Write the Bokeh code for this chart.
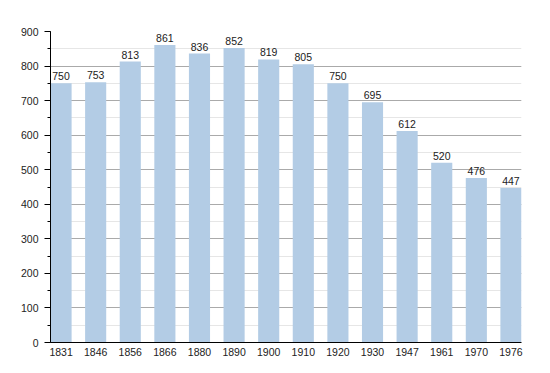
from bokeh.plotting import figure
from bokeh.models import ColumnDataSource, Range1d, SingleIntervalTicker, FixedTicker, LabelSet
from bokeh.core.properties import value
from bokeh.embed import file_html
from bokeh.resources import INLINE

years = ["1831", "1846", "1856", "1866", "1880", "1890", "1900", "1910", "1920", "1930", "1947", "1961", "1970", "1976"]
population = [750, 753, 813, 861, 836, 852, 819, 805, 750, 695, 612, 520, 476, 447]
y_ticks = [0, 100, 200, 300, 400, 500, 600, 700, 800, 900]

bar_w = 0.61
xs = list(range(len(years)))
source = ColumnDataSource(dict(x=xs, top=population, label=[str(v) for v in population]))

FONT = "Liberation Sans"

p = figure(width=542, height=365, output_backend="svg", toolbar_location=None,
           x_range=Range1d(-bar_w / 2, len(years) - 1 + bar_w / 2),
           y_range=Range1d(0, 900),
           min_border_left=50, min_border_right=21, min_border_top=31, min_border_bottom=23)
p.outline_line_color = None
p.background_fill_color = "white"
p.border_fill_color = "white"

p.vbar(x="x", top="top", width=bar_w, source=source, fill_color="#b3cce5", line_color=None)

labels = LabelSet(x="x", y="top", text="label", source=source, text_align="center",
                  text_baseline="bottom", y_offset=3, text_font_size=value("10.5px"),
                  text_color="#222222", text_font=value(FONT))
p.add_layout(labels)

# y axis
p.yaxis.ticker = SingleIntervalTicker(interval=100, num_minor_ticks=2)
p.yaxis.axis_line_color = "black"
p.yaxis.major_tick_line_color = "black"
p.yaxis.major_tick_out = 6
p.yaxis.major_tick_in = 0
p.yaxis.minor_tick_line_color = "black"
p.yaxis.minor_tick_out = 3
p.yaxis.minor_tick_in = 0
p.yaxis.major_label_standoff = 6
p.yaxis.major_label_text_font_size = "10.5px"
p.yaxis.major_label_text_font = FONT
p.yaxis.major_label_text_color = "#222222"

# x axis
p.xaxis.ticker = FixedTicker(ticks=xs)
p.xaxis.major_label_overrides = {i: y for i, y in enumerate(years)}
p.xaxis.axis_line_color = "black"
p.xaxis.major_tick_line_color = None
p.xaxis.major_tick_out = 0
p.xaxis.major_tick_in = 0
p.xaxis.minor_tick_line_color = None
p.xaxis.major_label_standoff = 5
p.xaxis.major_label_text_font_size = "10.5px"
p.xaxis.major_label_text_font = FONT
p.xaxis.major_label_text_color = "#222222"

# grids
p.xgrid.grid_line_color = None
p.ygrid.grid_line_color = "#aaaaaa"
p.ygrid.minor_grid_line_color = "#e6e6e6"
p.ygrid.level = "underlay"

open("out.html", "w").write(file_html(p, INLINE))
